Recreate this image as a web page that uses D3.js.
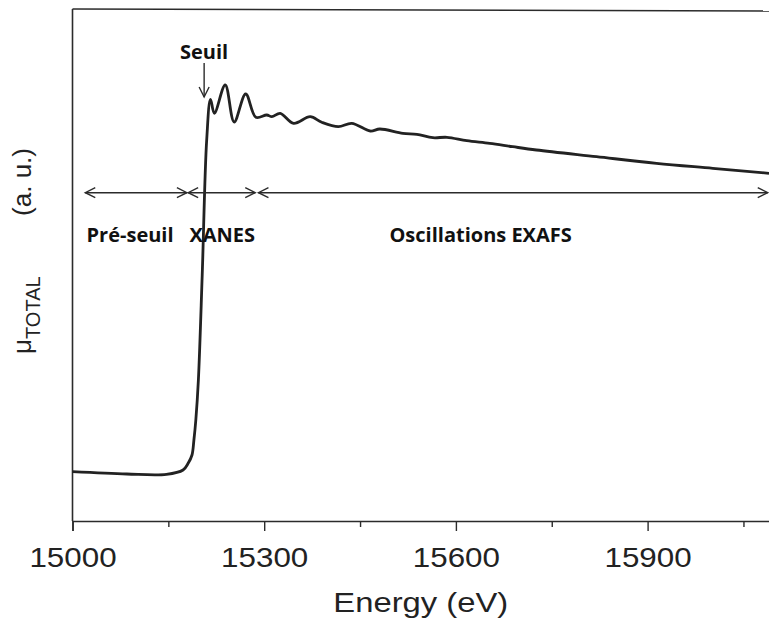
<!DOCTYPE html>
<html>
<head>
<meta charset="utf-8">
<script src="https://cdn.jsdelivr.net/npm/d3@7"></script>
<style>
  html, body { margin: 0; padding: 0; background: #fff; }
  svg { display: block; }
</style>
</head>
<body>
<div id="chart"></div>
<script>
// ---- data ----
const energy = [15000, 15085, 15147, 15173, 15181, 15187, 15190, 15193, 15197, 15203, 15210,
  15216, 15222, 15239, 15253, 15271, 15287, 15304, 15312, 15325, 15346, 15372, 15390, 15416,
  15437, 15466, 15481, 15517, 15539, 15564, 15586, 15617, 15653, 15689, 15726, 15820, 15914,
  16002, 16090];
const mu = [0.493, 0.470, 0.467, 0.510, 0.577, 0.660, 0.810, 1.010, 1.410, 2.460, 3.810,
  4.217, 4.077, 4.360, 3.990, 4.270, 4.037, 4.060, 4.043, 4.077, 3.977, 4.043, 3.987, 3.943,
  3.977, 3.900, 3.920, 3.877, 3.867, 3.833, 3.837, 3.803, 3.777, 3.743, 3.710, 3.643, 3.577,
  3.527, 3.477];
const majorTicks = [15000, 15300, 15600, 15900];
const minorTicks = [15150, 15450, 15750, 16050];
const regionNames = ["Pré-seuil", "XANES", "Oscillations EXAFS"];
const regionStart = [15020, 15181, 15291];
const regionEnd = [15179, 15286, 16088];
const regionLabelE = [15022, 15183, 15496];
const edgeLabel = "Seuil";
const edgeE = 15206;
const xTitle = "Energy (eV)";
const yTitleSymbol = "μ", yTitleSub = "TOTAL", yTitleUnit = "(a. u.)";

// ---- layout ----
const W = 769, H = 619;
const mLeft = 72.5, mTop = 9, mBottom = 521;
const x = d3.scaleLinear().domain([15000, 16100]).range([mLeft, mLeft + 1100 * 191.7 / 300]);
const y = d3.scaleLinear().domain([0, 5.12]).range([mBottom, mTop]);

const svg = d3.select("#chart").append("svg").attr("width", W).attr("height", H);
const ink = "#2b2b2b";

// frame: top and left lines
svg.append("line").attr("x1", mLeft).attr("x2", W + 10).attr("y1", mTop).attr("y2", mTop + 2)
  .attr("stroke", ink).attr("stroke-width", 1.6);
svg.append("line").attr("x1", mLeft).attr("x2", mLeft).attr("y1", mTop).attr("y2", mBottom)
  .attr("stroke", ink).attr("stroke-width", 1.6);

// bottom axis
const gx = svg.append("g").attr("transform", `translate(0,${mBottom})`)
  .call(d3.axisBottom(x).tickValues(majorTicks).tickSize(10).tickFormat(d3.format("d")));
gx.select(".domain").attr("stroke", ink).attr("stroke-width", 1.6);
gx.selectAll(".tick line").attr("stroke", ink).attr("stroke-width", 1.4);
gx.selectAll(".tick text")
  .attr("y", 0).attr("dy", 0)
  .attr("transform", "translate(0,45.7) scale(1.12,1)")
  .attr("fill", "#222")
  .style("font-family", "'Liberation Sans', Arial, sans-serif")
  .style("font-size", "28px");
const gm = svg.append("g").attr("transform", `translate(0,${mBottom})`)
  .call(d3.axisBottom(x).tickValues(minorTicks).tickSize(6).tickFormat(""));
gm.select(".domain").remove();
gm.selectAll(".tick line").attr("stroke", ink).attr("stroke-width", 1.4);

// x title
svg.append("text")
  .attr("transform", `translate(${(mLeft + W) / 2},611.5) scale(1.17,1)`)
  .attr("text-anchor", "middle")
  .attr("fill", "#222")
  .style("font-family", "'Liberation Sans', Arial, sans-serif")
  .style("font-size", "28px")
  .text(xTitle);

// y title (rotated)
const yt = svg.append("text")
  .attr("transform", "translate(31,354) rotate(-90)")
  .attr("fill", "#222")
  .style("font-family", "'Liberation Sans', Arial, sans-serif")
  .style("font-size", "26px");
yt.append("tspan").text(yTitleSymbol);
yt.append("tspan").attr("dy", 9).style("font-size", "20px").text(yTitleSub);
svg.append("text")
  .attr("transform", "translate(31,148) rotate(-90)")
  .attr("text-anchor", "end")
  .attr("fill", "#222")
  .style("font-family", "'Liberation Sans', Arial, sans-serif")
  .style("font-size", "26px")
  .text(yTitleUnit);

// spectrum
const line = d3.line().x((d, i) => x(energy[i])).y(d => y(d)).curve(d3.curveCatmullRom.alpha(0.5));
svg.append("path").datum(mu)
  .attr("d", line)
  .attr("fill", "none")
  .attr("stroke", "#222")
  .attr("stroke-width", 2.8)
  .attr("stroke-linejoin", "round");

// region double arrows
const arrowY = y(3.283);
function chevron(px, dir) { // dir=-1 left-pointing, +1 right-pointing
  const L = 10, h = 5;
  return `M${px - dir * L},${arrowY - h}L${px},${arrowY}L${px - dir * L},${arrowY + h}`;
}
regionNames.forEach((name, i) => {
  const x1 = x(regionStart[i]), x2 = x(regionEnd[i]);
  svg.append("line").attr("x1", x1).attr("x2", x2).attr("y1", arrowY).attr("y2", arrowY)
    .attr("stroke", ink).attr("stroke-width", 1.4);
  svg.append("path").attr("d", chevron(x1, -1)).attr("fill", "none").attr("stroke", ink).attr("stroke-width", 1.4);
  svg.append("path").attr("d", chevron(x2, 1)).attr("fill", "none").attr("stroke", ink).attr("stroke-width", 1.4);
  svg.append("text")
    .attr("x", x(regionLabelE[i])).attr("y", y(2.795))
    .attr("fill", "#111")
    .style("font-family", "'Open Sans', 'Noto Sans', sans-serif")
    .style("font-weight", "bold")
    .style("font-size", "20px")
    .text(name);
});

// Seuil annotation
const sx = x(edgeE);
svg.append("text")
  .attr("x", sx).attr("y", y(4.617))
  .attr("text-anchor", "middle")
  .attr("fill", "#111")
  .style("font-family", "'Open Sans', 'Noto Sans', sans-serif")
  .style("font-weight", "bold")
  .style("font-size", "20px")
  .text(edgeLabel);
const tipY = y(4.24);
svg.append("line").attr("x1", sx).attr("x2", sx).attr("y1", y(4.58)).attr("y2", tipY)
  .attr("stroke", ink).attr("stroke-width", 1.4);
svg.append("path").attr("d", `M${sx - 5},${tipY - 10}L${sx},${tipY}L${sx + 5},${tipY - 10}`)
  .attr("fill", "none").attr("stroke", ink).attr("stroke-width", 1.4);
</script>
</body>
</html>
